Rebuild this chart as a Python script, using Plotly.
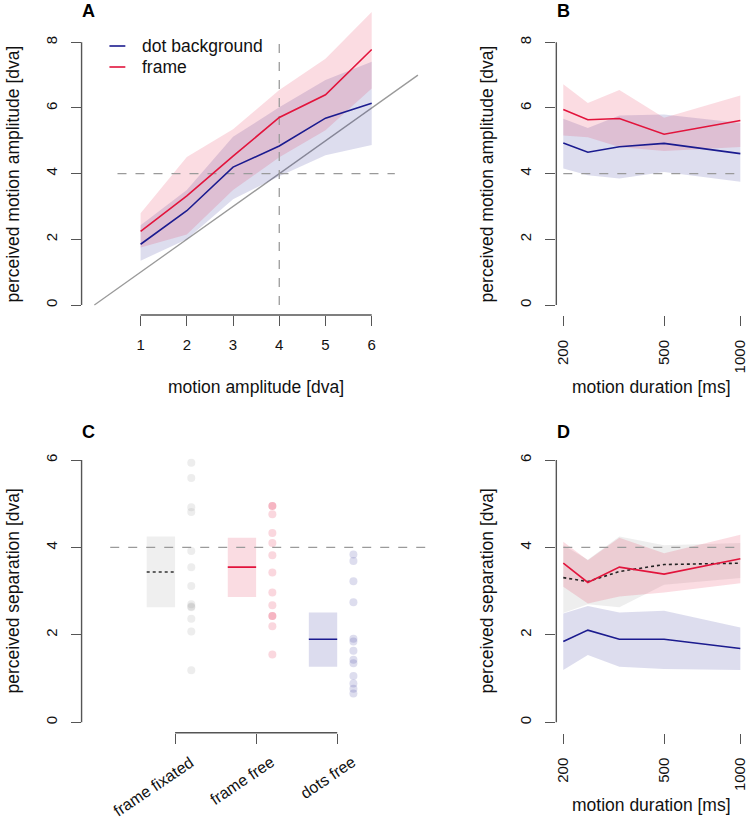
import math
import plotly.graph_objects as go

# ---------------- data ----------------
amp = [1, 2, 3, 4, 5, 6]
A_dots_mean = [1.85, 2.87, 4.20, 4.84, 5.69, 6.14]
A_dots_lo = [1.35, 2.00, 3.22, 3.92, 4.56, 4.87]
A_dots_hi = [2.43, 3.50, 5.12, 6.02, 6.85, 7.41]
A_frame_mean = [2.24, 3.32, 4.53, 5.71, 6.40, 7.78]
A_frame_lo = [1.75, 2.15, 3.50, 4.50, 5.32, 6.59]
A_frame_hi = [2.79, 4.51, 5.35, 6.55, 7.50, 8.92]

dur = [200, 250, 333, 500, 1000]
B_frame_mean = [5.95, 5.64, 5.68, 5.20, 5.62]
B_frame_lo = [5.16, 5.11, 4.81, 4.69, 4.81]
B_frame_hi = [6.72, 6.15, 6.55, 5.70, 6.38]
B_dots_mean = [4.93, 4.65, 4.82, 4.92, 4.61]
B_dots_lo = [4.16, 3.95, 3.85, 4.05, 3.75]
B_dots_hi = [5.67, 5.39, 5.77, 5.80, 5.54]

cond = ["frame fixated", "frame free", "dots free"]
cond_pos = [1, 2, 3]
C_mean = [3.44, 3.55, 1.90]
C_lo = [2.63, 2.87, 1.27]
C_hi = [4.25, 4.22, 2.51]
C_fix_pts = [5.94, 5.59, 4.92, 4.81, 3.92, 3.55, 3.12, 2.70, 2.65, 2.63, 2.37, 2.08, 1.19]
C_frame_pts = [4.95, 4.95, 4.76, 4.33, 4.10, 3.82, 3.43, 2.97, 2.68, 2.43, 2.43, 2.20, 1.55]
C_dots_pts = [3.84, 3.69, 3.23, 2.75, 1.91, 1.85, 1.64, 1.43, 1.35, 1.06, 0.89, 0.77, 0.66]

D_fix_mean = [3.31, 3.22, 3.45, 3.61, 3.64]
D_fix_lo = [2.50, 2.70, 2.63, 3.15, 3.30]
D_fix_hi = [4.05, 3.72, 4.25, 4.05, 4.10]
D_frame_mean = [3.64, 3.20, 3.55, 3.39, 3.74]
D_frame_lo = [3.10, 2.72, 2.88, 2.97, 3.18]
D_frame_hi = [4.13, 3.71, 4.22, 3.87, 4.29]
D_dots_mean = [1.85, 2.11, 1.90, 1.90, 1.69]
D_dots_lo = [1.20, 1.54, 1.27, 1.22, 1.20]
D_dots_hi = [2.49, 2.66, 2.51, 2.55, 2.17]

A_yticks = [0, 2, 4, 6, 8]
C_yticks = [0, 2, 4, 6]
dur_ticks = [200, 500, 1000]
reference = 4

# ---------------- style ----------------
W, H = 750, 824
FONT = "Liberation Sans, Arial, sans-serif"
RED = "#E2143C"
BLUE = "#1B1B8F"
RED_BAND = "rgba(226,20,60,0.15)"
BLUE_BAND = "rgba(27,27,143,0.15)"
GRAY_BAND = "rgba(150,150,150,0.16)"
AXC = "#555555"
REFC = "#9a9a9a"


def px_x(p):
    return p / W


def px_y(p):
    return (H - p) / H


def ax(n):
    return "" if n == 1 else str(n)


fig = go.Figure()


def band(x, lo, hi, color, n):
    fig.add_trace(go.Scatter(
        x=list(x) + list(x)[::-1], y=list(hi) + list(lo)[::-1],
        fill="toself", fillcolor=color, mode="lines", line=dict(width=0),
        hoverinfo="skip", showlegend=False, xaxis=f"x{ax(n)}", yaxis=f"y{ax(n)}"))


def line(x, y, color, n, dash="solid", width=1.6):
    fig.add_trace(go.Scatter(
        x=x, y=y, mode="lines", line=dict(color=color, width=width, dash=dash),
        hoverinfo="skip", showlegend=False, xaxis=f"x{ax(n)}", yaxis=f"y{ax(n)}",
        cliponaxis=False))


# ---- Panel A ----
line([0, 7], [0, 7], REFC, 1, width=1.3)
band(amp, A_dots_lo, A_dots_hi, BLUE_BAND, 1)
band(amp, A_frame_lo, A_frame_hi, RED_BAND, 1)
line([0.5, 6.5], [reference, reference], REFC, 1, dash="dash", width=1.3)
line([reference, reference], [0, 8], REFC, 1, dash="dash", width=1.3)
line(amp, A_dots_mean, BLUE, 1)
line(amp, A_frame_mean, RED, 1)

# ---- Panel B ----
band(dur, B_dots_lo, B_dots_hi, BLUE_BAND, 2)
band(dur, B_frame_lo, B_frame_hi, RED_BAND, 2)
line([dur[0], dur[-1]], [reference, reference], REFC, 2, dash="dash", width=1.3)
line(dur, B_dots_mean, BLUE, 2)
line(dur, B_frame_mean, RED, 2)

# ---- Panel C ----
box_w = 0.35
box_cols = ["#efefef", "#fadce2", "#dcdcee"]
fig.add_trace(go.Bar(
    x=[p - box_w / 2 for p in cond_pos], y=[h - l for h, l in zip(C_hi, C_lo)],
    base=C_lo, width=box_w, marker=dict(color=box_cols, line=dict(width=0)),
    hoverinfo="skip", showlegend=False, xaxis="x3", yaxis="y3"))
line([0.2, 4.15], [reference, reference], REFC, 3, dash="dash", width=1.3)
mean_styles = [("#333333", "dot"), (RED, "solid"), (BLUE, "solid")]
for p, m, (c, d) in zip(cond_pos, C_mean, mean_styles):
    line([p - box_w, p], [m, m], c, 3, dash=d, width=1.6)
pt_cols = ["rgba(140,140,140,0.16)", "rgba(226,20,60,0.17)", "rgba(27,27,143,0.15)"]
for p, pts, c in zip(cond_pos, [C_fix_pts, C_frame_pts, C_dots_pts], pt_cols):
    fig.add_trace(go.Scatter(
        x=[p + 0.2] * len(pts), y=pts, mode="markers",
        marker=dict(size=8, color=c, line=dict(width=0)),
        hoverinfo="skip", showlegend=False, xaxis="x3", yaxis="y3"))

# ---- Panel D ----
band(dur, D_fix_lo, D_fix_hi, GRAY_BAND, 4)
band(dur, D_frame_lo, D_frame_hi, RED_BAND, 4)
band(dur, D_dots_lo, D_dots_hi, BLUE_BAND, 4)
line([dur[0], dur[-1]], [reference, reference], REFC, 4, dash="dash", width=1.3)
line(dur, D_fix_mean, "#222222", 4, dash="dot", width=1.6)
line(dur, D_frame_mean, RED, 4)
line(dur, D_dots_mean, BLUE, 4)

# ---------------- axes ----------------
tick_common = dict(showgrid=False, zeroline=False, showline=False, ticks="outside",
                   ticklen=10, tickwidth=1.3, tickcolor=AXC,
                   tickfont=dict(family=FONT, size=15, color="#111111"),
                   ticklabeloverflow="allow", fixedrange=True)

log_lo = math.log10(200) - 7.0 / 254.66
log_hi = 3 + 5.7 / 254.66

layout_axes = dict(
    xaxis=dict(domain=[px_x(80), px_x(422.8)], range=[-0.277, 7.1], anchor="y",
               tickvals=amp, ticklabelstandoff=6, **tick_common),
    yaxis=dict(domain=[px_y(315), px_y(5)], range=[-0.3045, 9.135], anchor="x",
               tickvals=A_yticks, tickangle=-90, ticklabelstandoff=8, **tick_common),
    xaxis2=dict(domain=[px_x(557.3), px_x(748)], type="log", range=[log_lo, log_hi],
                anchor="y2", tickvals=dur_ticks, ticktext=[str(t) for t in dur_ticks],
                tickangle=-90, ticklabelstandoff=8, **tick_common),
    yaxis2=dict(domain=[px_y(315), px_y(5)], range=[-0.3045, 9.135], anchor="x2",
                tickvals=A_yticks, tickangle=-90, ticklabelstandoff=8, **tick_common),
    xaxis3=dict(domain=[px_x(80), px_x(435)], range=[-0.1534, 4.2025], anchor="y3",
                tickvals=cond_pos, showticklabels=False, **tick_common),
    yaxis3=dict(domain=[px_y(732.7), px_y(440)], range=[-0.2364, 6.458], anchor="x3",
                tickvals=C_yticks, tickangle=-90, ticklabelstandoff=8, **tick_common),
    xaxis4=dict(domain=[px_x(557.3), px_x(748)], type="log", range=[log_lo, log_hi],
                anchor="y4", tickvals=dur_ticks, ticktext=[str(t) for t in dur_ticks],
                tickangle=-90, ticklabelstandoff=8, **tick_common),
    yaxis4=dict(domain=[px_y(732.7), px_y(440)], range=[-0.2364, 6.458], anchor="x4",
                tickvals=C_yticks, tickangle=-90, ticklabelstandoff=8, **tick_common),
)

# R-style axis lines spanning first to last tick
shapes = []
xt = {1: (amp[0], amp[-1]), 2: (math.log10(dur_ticks[0]), math.log10(dur_ticks[-1])),
      3: (cond_pos[0], cond_pos[-1]), 4: (math.log10(dur_ticks[0]), math.log10(dur_ticks[-1]))}
yt = {1: A_yticks, 2: A_yticks, 3: C_yticks, 4: C_yticks}
for n in range(1, 5):
    a = ax(n)
    shapes.append(dict(type="line", xref=f"x{a} domain", yref=f"y{a}", x0=0, x1=0,
                       y0=yt[n][0], y1=yt[n][-1], line=dict(color=AXC, width=1.4)))
    shapes.append(dict(type="line", xref=f"x{a}", yref=f"y{a} domain", x0=xt[n][0],
                       x1=xt[n][1], y0=0, y1=0, line=dict(color=AXC, width=1.4)))

# legend in panel A
legend_items = [("dot background", BLUE, 46), ("frame", RED, 67)]
annotations = []
for label, col, ypx in legend_items:
    shapes.append(dict(type="line", xref="paper", yref="paper", x0=px_x(108), x1=px_x(124),
                       y0=px_y(ypx), y1=px_y(ypx), line=dict(color=col, width=1.6)))
    annotations.append(dict(text=label, xref="paper", yref="paper", x=px_x(138.5), y=px_y(ypx),
                            xanchor="left", yanchor="middle", showarrow=False,
                            font=dict(family=FONT, size=17.5, color="#111111")))

TF = dict(family=FONT, size=17.5, color="#111111")
titles = [
    ("motion amplitude [dva]", 255.5, 387, 0),
    ("perceived motion amplitude [dva]", 11.5, 174, -90),
    ("motion duration [ms]", 653, 387, 0),
    ("perceived motion amplitude [dva]", 488, 174, -90),
    ("perceived separation [dva]", 11.5, 591, -90),
    ("perceived separation [dva]", 488, 591, -90),
    ("motion duration [ms]", 653, 805, 0),
]
for t, xp, yp, ang in titles:
    annotations.append(dict(text=t, xref="paper", yref="paper", x=px_x(xp), y=px_y(yp),
                            xanchor="center", yanchor="middle", textangle=ang,
                            showarrow=False, font=TF))

for letter, xp, yp in [("A", 87, 11), ("B", 565, 11), ("C", 87, 432), ("D", 565, 432)]:
    annotations.append(dict(text=f"<b>{letter}</b>", xref="paper", yref="paper",
                            x=px_x(xp), y=px_y(yp), xanchor="center", yanchor="middle",
                            showarrow=False, font=dict(family=FONT, size=18, color="#000000")))

# rotated category labels for panel C
for p, lab in zip(cond_pos, cond):
    annotations.append(dict(text=lab, xref="x3", yref="paper", x=p + 0.28, y=px_y(752),
                            xanchor="right", yanchor="top", textangle=-34, showarrow=False,
                            borderpad=0, font=dict(family=FONT, size=16, color="#111111")))

fig.update_layout(
    width=W, height=H, margin=dict(l=0, r=0, t=0, b=0),
    paper_bgcolor="white", plot_bgcolor="rgba(0,0,0,0)",
    barmode="overlay", showlegend=False,
    shapes=shapes, annotations=annotations,
    **layout_axes,
)

fig.write_html("out.html")
